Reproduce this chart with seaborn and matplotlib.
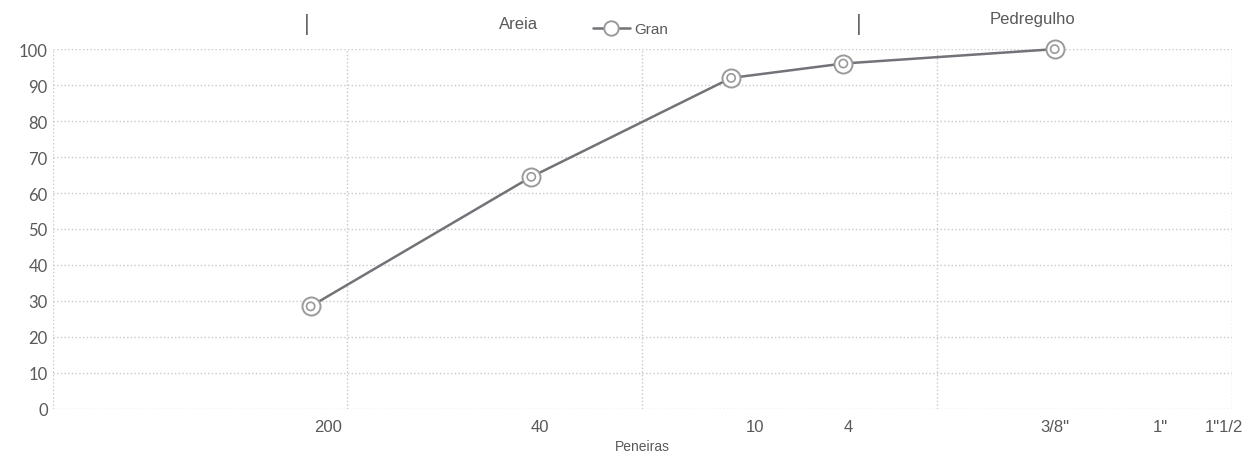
import matplotlib
matplotlib.use("Agg")
import matplotlib.pyplot as plt
from matplotlib.ticker import FixedLocator, NullFormatter
import seaborn as sns
import pandas as pd

# sieve openings (mm) and % passing
peneira_mm = [0.075, 0.42, 2.0, 4.8, 25.0]
passante = [28.5, 64.5, 92, 96, 100]

# tick labels and where they sit on the mm axis
tick_labels = ["200", "40", "10", "4", '3/8"', '1"', '1"1/2']
tick_pos = [0.086, 0.45, 2.4, 5.0, 25.0, 57.0, 94.0]

# region marks above the chart
marks_x = [0.073, 5.4]
regioes = ["Areia", "Pedregulho"]
regioes_x = [0.38, 21.0]

df = pd.DataFrame({"mm": peneira_mm, "passante": passante})

sns.set_style("white")
plt.rcParams["font.family"] = ["Liberation Sans", "DejaVu Sans"]

txt = "#595959"
line_c = "#727278"

fig = plt.figure(figsize=(12.51, 4.6), dpi=100)
ax = fig.add_axes([0.042, 0.109, 0.943, 0.782])

sns.lineplot(data=df, x="mm", y="passante", ax=ax, color=line_c, linewidth=1.8,
             marker="o", markersize=13, markerfacecolor="white",
             markeredgecolor="#9a9a9a", markeredgewidth=1.4, label="Gran",
             clip_on=False)
ax.scatter(df["mm"], df["passante"], s=35, facecolors="none",
           edgecolors="#9a9a9a", linewidths=1.2, zorder=5, clip_on=False)

ax.set_xscale("log")
ax.set_xlim(0.01, 100)
ax.set_ylim(0, 100)
ax.set_yticks(range(0, 101, 10))
ax.set_xticks(tick_pos)
ax.set_xticklabels(tick_labels)
ax.xaxis.set_minor_locator(FixedLocator([0.01, 0.1, 1, 10, 100]))
ax.xaxis.set_minor_formatter(NullFormatter())
ax.tick_params(axis="both", which="both", length=0, colors=txt, labelsize=12)
ax.tick_params(axis="x", pad=7)
for lab in ax.get_yticklabels():
    lab.set_family(["Lato", "DejaVu Sans"])

ax.grid(True, axis="y", which="major", color="#c8c8c8", linestyle=":", linewidth=1)
ax.grid(True, axis="x", which="minor", color="#c8c8c8", linestyle=":", linewidth=1)
for s in ax.spines.values():
    s.set_visible(False)

ax.set_xlabel("Peneiras", color=txt, fontsize=10, labelpad=4)
ax.set_ylabel("")

for xm in marks_x:
    ax.text(xm, 107, "|", color="#666666", fontsize=16, ha="center", va="center",
            clip_on=False)
ax.text(regioes_x[0], 107, regioes[0], color=txt, fontsize=12, ha="center",
        va="center", clip_on=False)
ax.text(regioes_x[1], 108.5, regioes[1], color=txt, fontsize=12, ha="center",
        va="center", clip_on=False)

leg = ax.legend(loc="center", bbox_to_anchor=(0.49, 1.055), frameon=False,
                fontsize=11, handlelength=2.4, handletextpad=0.3, markerscale=0.8)
for t in leg.get_texts():
    t.set_color(txt)

fig.savefig("out.png", dpi=100)
